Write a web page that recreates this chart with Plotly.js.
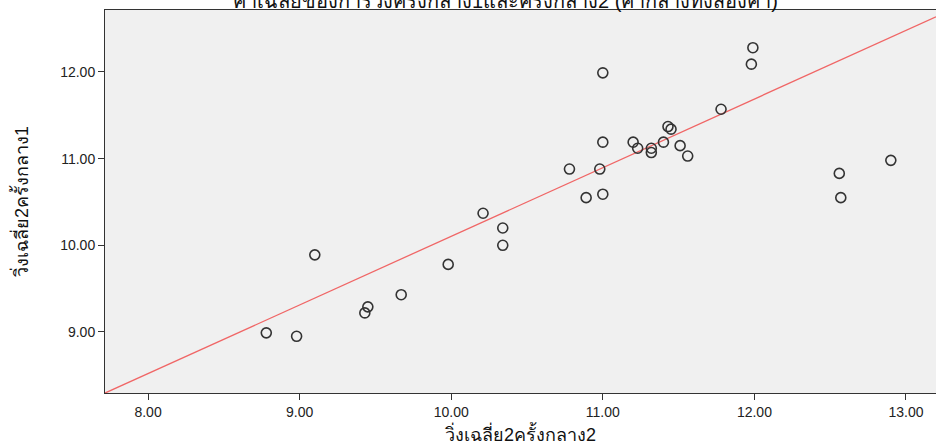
<!DOCTYPE html>
<html>
<head>
<meta charset="utf-8">
<script src="https://cdn.plot.ly/plotly-3.0.1.min.js"></script>
<style>html,body{margin:0;padding:0;background:#fff;}#chart{width:936px;height:445px;}</style>
</head>
<body>
<div id="chart"></div>
<script>
// Data
const run2 = [8.78, 8.98, 9.10, 9.43, 9.45, 9.67, 9.98, 10.21, 10.34, 10.34,
              10.78, 10.98, 11.00, 11.00, 10.89, 11.00, 11.20, 11.23, 11.32, 11.32,
              11.40, 11.43, 11.45, 11.51, 11.56, 11.78, 11.98, 11.99, 12.56, 12.57, 12.90];
const run1 = [8.99, 8.95, 9.89, 9.22, 9.29, 9.43, 9.78, 10.37, 10.20, 10.00,
              10.88, 10.88, 11.19, 11.99, 10.55, 10.59, 11.19, 11.12, 11.12, 11.07,
              11.19, 11.37, 11.34, 11.15, 11.03, 11.57, 12.09, 12.28, 10.83, 10.55, 10.98];
const fitCoef = [2.184, 0.792]; // intercept, slope of the drawn line
const xTickVals = [8, 9, 10, 11, 12, 13];
const yTickVals = [9, 10, 11, 12];

const xRange = [7.716, 13.198];
const yRange = [8.296, 12.715];

const font = "Liberation Sans, Arial, Noto Sans, sans-serif";

const trace = {
  x: run2, y: run1, type: 'scatter', mode: 'markers',
  marker: {symbol: 'circle-open', size: 10, color: '#333', line: {width: 1.6, color: '#333'}},
  hoverinfo: 'x+y', showlegend: false
};

const layout = {
  width: 936, height: 445,
  margin: {l: 105, r: 0, t: 10, b: 52},
  paper_bgcolor: '#ffffff',
  plot_bgcolor: '#f0f0f0',
  title: {
    text: 'ค่าเฉลี่ยของการวิ่งครั้งกลาง1และครั้งกลาง2 (ค่ากลางทั้งสองค่า)',
    font: {family: font, size: 20, color: '#111'},
    x: 0.54, xanchor: 'center', y: 0.997, yref: 'container', yanchor: 'middle'
  },
  xaxis: {
    range: xRange, tickvals: xTickVals, tickformat: '.2f',
    showgrid: false, zeroline: false,
    showline: true, linecolor: '#333', linewidth: 1, mirror: true,
    ticks: 'outside', ticklen: 6, tickcolor: '#333', tickwidth: 1,
    tickfont: {family: font, size: 14, color: '#222'},
    title: {text: 'วิ่งเฉลี่ย2ครั้งกลาง2', font: {family: font, size: 18, color: '#111'}, standoff: 14}
  },
  yaxis: {
    range: yRange, tickvals: yTickVals, tickformat: '.2f',
    showgrid: false, zeroline: false,
    showline: true, linecolor: '#333', linewidth: 1, mirror: false,
    ticks: 'outside', ticklen: 6, tickcolor: '#333', tickwidth: 1,
    tickfont: {family: font, size: 14, color: '#222'},
    title: {text: 'วิ่งเฉลี่ย2ครั้งกลาง1', font: {family: font, size: 18, color: '#111'}, standoff: 26}
  },
  shapes: [{
    type: 'line', xref: 'x', yref: 'y', layer: 'below',
    x0: xRange[0], y0: fitCoef[0] + fitCoef[1] * xRange[0],
    x1: xRange[1], y1: fitCoef[0] + fitCoef[1] * xRange[1],
    line: {color: '#f06666', width: 1.3}
  }]
};

Plotly.newPlot('chart', [trace], layout, {displayModeBar: false, staticPlot: true});
</script>
</body>
</html>
